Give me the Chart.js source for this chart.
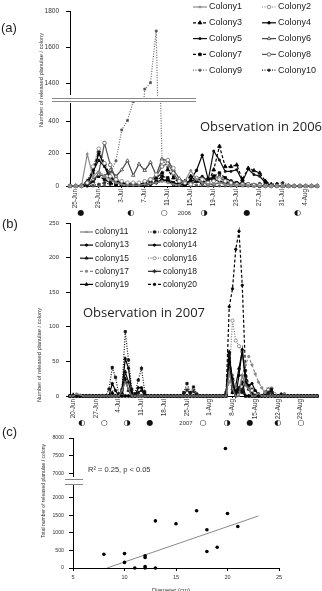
<!DOCTYPE html>
<html>
<head>
<meta charset="utf-8">
<script src="https://cdn.jsdelivr.net/npm/chart.js@4.4.1/dist/chart.umd.min.js"></script>
<style>
  html, body { margin: 0; padding: 0; background: #fff; }
  body { width: 322px; height: 591px; position: relative; overflow: hidden; font-family: 'Liberation Sans', Arial, sans-serif; color: #222; }
  canvas { position: absolute; left: 0; }
  .t { position: absolute; white-space: nowrap; line-height: 1; transform: translateY(-50%); }
  .yt { position: absolute; white-space: nowrap; line-height: 1; color: #333; transform: translate(-50%, -50%) rotate(-90deg); }
  .obs { font-family: 'Open Sans', sans-serif; font-size: 13px; color: #222; }
  .brk { position: absolute; background: #fff; border-top: 1px solid #888; border-bottom: 1px solid #888; }
</style>
</head>
<body>
<canvas id="aTop" width="322" height="99" style="top:0px"></canvas>
<canvas id="aBot" width="322" height="132" style="top:99px"></canvas>
<canvas id="bChart" width="322" height="225" style="top:215px"></canvas>
<canvas id="cTop" width="322" height="50" style="top:430px"></canvas>
<canvas id="cBot" width="322" height="111" style="top:480px"></canvas>

<div class="brk" style="left:52px; top:98px; width:144px; height:2px"></div>
<div class="brk" style="left:65px; top:479px; width:18px; height:4px"></div>

<div class="t" style="left:1px; top:27px; font-size:13px">(a)</div>
<div class="t" style="left:2px; top:223px; font-size:13px">(b)</div>
<div class="t" style="left:2px; top:431px; font-size:13px">(c)</div>
<div class="t obs" style="left:200px; top:126px">Observation in 2006</div>
<div class="t obs" style="left:83px; top:312px">Observation in 2007</div>
<div class="t" style="left:88px; top:470px; font-size:7.5px; color:#333">R² = 0.25, p &lt; 0.05</div>
<div class="t" style="left:152px; top:590px; font-size:6px; color:#333">Diameter (cm)</div>
<div class="yt" style="left:42px; top:80px; font-size:5.7px">Number of released planulae / colony</div>
<div class="yt" style="left:40px; top:355px; font-size:5.7px">Number of released planulae / colony</div>
<div class="yt" style="left:43px; top:491px; font-size:5px">Total number of released planulae / colony</div>

<script>
// ---- (a) 2006 ----
const datesA = ['24-Jun','25-Jun','26-Jun','27-Jun','28-Jun','29-Jun','30-Jun',
  '1-Jul','2-Jul','3-Jul','4-Jul','5-Jul','6-Jul','7-Jul','8-Jul','9-Jul','10-Jul',
  '11-Jul','12-Jul','13-Jul','14-Jul','15-Jul','16-Jul','17-Jul','18-Jul','19-Jul','20-Jul',
  '21-Jul','22-Jul','23-Jul','24-Jul','25-Jul','26-Jul','27-Jul','28-Jul','29-Jul','30-Jul','31-Jul',
  '1-Aug','2-Aug','3-Aug','4-Aug','5-Aug','6-Aug'];
const tickLabelsA = ['25-Jun','29-Jun','3-Jul','7-Jul','11-Jul','15-Jul','19-Jul','23-Jul','27-Jul','31-Jul','4-Aug'];
const namesA = ['Colony1','Colony2','Colony3','Colony4','Colony5','Colony6','Colony7','Colony8','Colony9','Colony10'];
const colony1 = [0,0,0,197,58,90,60,40,20,10, 5,5,5,10,15,20,30,20,10,5, 30,96,40,20,10,15,20,10,5,5, 5,5,0,0,0,0,0,0,0,0, 0,0,0,0];
const colony2 = [0,0,0,20,120,230,140,60,40,30, 20,20,20,30,40,70,150,160,110,30, 20,10,50,40,20,30,40,30,20,10, 10,10,5,5,0,0,0,0,0,0, 0,0,0,0];
const colony3 = [0,0,5,30,100,215,140,60,30,20, 10,10,10,20,30,50,80,100,50,20, 30,60,30,20,20,100,245,120,120,130, 40,110,95,80,30,10,5,0,0,0, 0,0,0,0];
const colony4 = [0,0,0,10,80,200,130,50,30,20, 15,10,10,10,15,20,40,30,10,5, 10,40,96,190,46,40,30,20,20,20, 10,10,5,5,0,0,0,0,0,0, 0,0,0,0];
const colony5 = [0,0,5,20,90,160,120,40,20,10, 10,5,5,5,10,20,30,40,20,10, 20,30,40,60,30,215,160,90,90,100, 30,105,70,60,20,5,0,0,0,0, 0,0,0,0];
const colony6 = [0,0,0,10,40,70,60,98,60,100, 156,66,136,96,146,66,166,156,100,46, 20,20,30,20,10,10,20,15,10,10, 5,5,0,0,0,0,0,0,0,0, 0,0,0,0];
const colony7 = [0,0,0,5,30,60,40,20,10,10, 5,5,5,10,20,30,60,50,20,10, 5,20,50,30,20,60,80,50,30,20, 20,10,5,0,0,0,0,0,0,0, 0,0,0,0];
const colony8 = [0,0,0,5,20,80,265,130,40,20, 10,10,10,20,40,60,120,140,80,20, 10,10,30,20,40,60,50,30,20,10, 10,5,5,0,0,0,0,0,0,0, 0,0,0,0];
const colony9 = [0,0,0,0,0,0,5,85,155,346, 404,520,950,1370,1405,1690,165,115,60,30, 20,10,5,5,0,0,0,0,0,0, 0,0,0,0,0,0,0,0,0,0, 0,0,0,0];
const colony10 = [0,0,0,0,5,10,20,10,5,5, 5,5,5,5,10,20,40,30,10,5, 10,20,30,20,20,40,60,40,30,20, 20,15,10,15,10,10,15,20,5,0, 0,0,0,0];
const valuesA = [colony1,colony2,colony3,colony4,colony5,colony6,colony7,colony8,colony9,colony10];
const yTicksTopA = [1400, 1600, 1800];
const yTicksLowA = [0, 200, 400];
const moonIdxA = [1.9, 10.6, 16.4, 23.3, 30.8, 39.6];
const moonSymA = ['●','◐','○','◑','●','◐'];

// ---- (b) 2007 ----
const datesB = ['19-Jun','20-Jun','21-Jun','22-Jun','23-Jun','24-Jun','25-Jun','26-Jun','27-Jun','28-Jun','29-Jun','30-Jun',
  '1-Jul','2-Jul','3-Jul','4-Jul','5-Jul','6-Jul','7-Jul','8-Jul','9-Jul','10-Jul',
  '11-Jul','12-Jul','13-Jul','14-Jul','15-Jul','16-Jul','17-Jul','18-Jul','19-Jul','20-Jul',
  '21-Jul','22-Jul','23-Jul','24-Jul','25-Jul','26-Jul','27-Jul','28-Jul','29-Jul','30-Jul','31-Jul',
  '1-Aug','2-Aug','3-Aug','4-Aug','5-Aug','6-Aug','7-Aug','8-Aug','9-Aug','10-Aug',
  '11-Aug','12-Aug','13-Aug','14-Aug','15-Aug','16-Aug','17-Aug','18-Aug','19-Aug','20-Aug',
  '21-Aug','22-Aug','23-Aug','24-Aug','25-Aug','26-Aug','27-Aug','28-Aug','29-Aug','30-Aug','31-Aug',
  '1-Sep','2-Sep','3-Sep'];
const tickLabelsB = ['20-Jun','27-Jun','4-Jul','11-Jul','18-Jul','25-Jul','1-Aug','8-Aug','15-Aug','22-Aug','29-Aug'];
const namesB = ['colony11','colony12','colony13','colony14','colony15','colony16','colony17','colony18','colony19','colony20'];
const colony11 = [0,0,3,2,0,0,0,0,0,0, 0,0,0,0,0,0,8,20,10,0, 0,0,0,0,0,0,0,0,0,0, 0,0,0,0,0,0,0,0,0,0, 0,0,0,0,0,0,0,0,0,35, 10,0,0,30,15,10,0,0,4,0, 0,0,0,0,0,0,0,0,0,0, 0,0,0,0,0,0,0];
const colony12 = [0,0,0,0,0,0,0,0,0,0, 0,0,10,41,27,3,8,93,52,10, 3,23,40,6,0,0,0,0,0,0, 0,0,0,0,0,5,18,5,13,3, 0,0,0,0,0,0,0,0,5,60, 20,5,10,5,0,0,0,0,0,0, 0,0,10,0,0,0,0,0,0,0, 0,0,0,0,0,0,0];
const colony13 = [0,0,0,0,0,0,0,0,0,0, 0,0,0,18,8,0,10,54,40,5, 0,12,12,3,0,0,0,0,0,0, 0,0,0,0,0,0,0,0,0,0, 0,0,0,0,0,0,0,0,0,62, 5,3,10,20,0,0,0,0,0,0, 0,0,0,0,0,0,0,0,0,0, 0,0,0,0,0,0,0];
const colony14 = [0,0,0,0,0,0,0,0,0,0, 0,0,0,0,0,0,0,0,0,0, 0,0,0,0,0,0,0,0,0,0, 0,0,0,0,0,0,0,0,0,0, 0,0,0,0,0,0,0,0,0,55, 25,0,30,67,20,15,18,8,3,0, 0,0,0,0,0,0,0,0,0,0, 0,0,0,0,0,0,0];
const colony15 = [0,0,0,0,0,0,0,0,0,0, 0,0,0,0,0,0,5,35,20,0, 0,5,8,0,0,0,0,0,0,0, 0,0,0,0,0,0,0,0,0,0, 0,0,0,0,0,0,0,0,3,64, 10,5,12,8,0,0,0,0,0,0, 0,5,8,0,0,0,0,0,0,0, 0,0,0,0,0,0,0];
const colony16 = [0,0,0,0,0,0,0,0,0,0, 0,0,0,0,0,0,0,0,0,0, 0,0,0,0,0,0,0,0,0,0, 0,0,0,0,0,0,0,0,0,0, 0,0,0,0,0,0,0,0,0,30, 109,80,72,64,20,15,8,5,0,0, 0,9,11,3,0,0,0,0,0,0, 0,0,0,0,0,0,0];
const colony17 = [0,0,0,0,0,0,0,0,0,0, 0,0,0,0,0,0,0,0,0,0, 0,0,0,0,0,0,0,0,0,0, 0,0,0,0,0,0,0,0,0,0, 0,0,0,0,0,0,0,0,2,20, 30,15,10,30,45,57,45,32,20,12, 5,3,0,0,0,0,3,0,0,0, 0,0,0,0,0,0,0];
const colony18 = [0,0,0,0,0,0,0,0,0,0, 0,0,0,0,0,0,0,0,0,0, 0,0,0,0,0,0,0,0,0,0, 0,0,0,0,0,0,9,3,7,0, 0,0,0,0,0,0,0,0,0,45, 15,8,5,10,18,10,0,0,0,0, 6,10,5,0,0,0,0,0,0,0, 0,0,0,0,0,0,0];
const colony19 = [0,2,2,0,0,0,0,0,0,0, 0,0,0,5,0,0,3,25,8,0, 0,0,0,0,0,0,0,0,0,0, 0,0,0,0,0,0,0,0,0,0, 0,0,0,0,0,0,0,0,0,50, 5,15,40,65,30,10,5,0,0,0, 0,0,0,0,0,0,0,0,0,0, 0,0,0,0,0,0,0];
const colony20 = [0,0,0,0,0,0,0,0,0,0, 0,0,0,0,0,0,0,0,0,0, 0,0,0,0,0,0,0,0,0,0, 0,0,0,0,0,0,0,0,0,0, 0,0,0,0,0,0,0,0,0,129, 155,212,238,160,37,15,10,6,3,0, 0,0,0,0,0,3,3,0,0,0, 0,0,0,0,0,0,0];
const valuesB = [colony11,colony12,colony13,colony14,colony15,colony16,colony17,colony18,colony19,colony20];
const yTicksB = [0, 50, 100, 150, 200, 250];
const moonIdxB = [3.7, 10.5, 17.5, 24.6, 40.9, 48.3, 55.4, 64, 71.1];
const moonSymB = ['◐','○','◑','●','○','◑','●','◐','○'];

// ---- (c) size vs total ----
const diameterC = [8, 10, 10, 11, 12, 12, 12, 12, 13, 13, 15, 17, 18, 18, 19, 20, 21, 19.8];
const totalC = [390, 410, 160, 0, 350, 300, 40, 0, 1340, 0, 1260, 1630, 1090, 470, 590, 1550, 1180, 7700];
const trendX = [8.3, 23];
const trendY = [0, 1480];
const xTicksC = [5, 10, 15, 20, 25];
const yTicksTopC = [7000, 7500, 8000];
const yTicksLowC = [0, 500, 1000, 1500, 2000];

// line looks, same order as the names
const stylesA = [
  { c: '#8a8a8a', dash: [], ps: 'circle', r: 1, bg: '#8a8a8a' },
  { c: '#7a7a7a', dash: [1, 1.5], ps: 'circle', r: 1.8, bg: '#fff' },
  { c: '#000', dash: [3, 2], ps: 'triangle', r: 2.2, bg: '#000' },
  { c: '#000', dash: [], ps: 'circle', r: 1.3, bg: '#000' },
  { c: '#111', dash: [], ps: 'rect', r: 1.3, bg: '#111' },
  { c: '#444', dash: [], ps: 'triangle', r: 2, bg: '#fff' },
  { c: '#000', dash: [3, 2], ps: 'rect', r: 1.8, bg: '#000' },
  { c: '#555', dash: [], ps: 'circle', r: 1.8, bg: '#fff' },
  { c: '#666', dash: [1, 1.5], ps: 'rect', r: 1.4, bg: '#444' },
  { c: '#222', dash: [1, 1.5], ps: 'circle', r: 1.2, bg: '#222' }
];
const stylesB = [
  { c: '#7a7a7a', dash: [], ps: 'crossRot', r: 1.6, bg: '#7a7a7a' },
  { c: '#111', dash: [1, 1.5], ps: 'rect', r: 1.6, bg: '#111' },
  { c: '#000', dash: [], ps: 'circle', r: 1.2, bg: '#000' },
  { c: '#000', dash: [], ps: 'circle', r: 1.2, bg: '#000' },
  { c: '#111', dash: [], ps: 'triangle', r: 1.8, bg: '#111' },
  { c: '#7a7a7a', dash: [1, 1.5], ps: 'circle', r: 1.6, bg: '#fff' },
  { c: '#888', dash: [3, 2], ps: 'circle', r: 1.2, bg: '#888' },
  { c: '#222', dash: [], ps: 'star', r: 2, bg: '#222' },
  { c: '#000', dash: [], ps: 'triangle', r: 1.8, bg: '#000' },
  { c: '#000', dash: [3, 2], ps: 'circle', r: 1.2, bg: '#000' }
];

Chart.defaults.font.family = "'Liberation Sans', Arial, sans-serif";
Chart.defaults.color = '#333';

function series(names, values, styles) {
  return names.map((name, k) => ({
    label: name,
    data: values[k],
    borderColor: styles[k].c,
    borderWidth: 1.2,
    borderDash: styles[k].dash,
    pointStyle: styles[k].ps,
    pointRadius: styles[k].r,
    pointBorderWidth: 0.8,
    pointBackgroundColor: styles[k].bg,
    pointBorderColor: styles[k].c,
    tension: 0,
    fill: false,
    clip: 3
  }));
}

// tick padding would otherwise push the plot area in; layout padding handles the edges
function noEdgePad(s) {
  s.paddingTop = 0; s.paddingBottom = 0; s.paddingLeft = 0; s.paddingRight = 0;
}

// legend + moon row, drawn on the canvas
const decor = {
  id: 'decor',
  afterDraw(chart, args, o) {
    const ctx = chart.ctx;
    if (o.legend) {
      const L = o.legend;
      chart.data.datasets.forEach((ds, k) => {
        const x0 = L.cols[k % 2];
        const y = L.y0 + Math.floor(k / 2) * L.dy;
        ctx.save();
        ctx.strokeStyle = ds.borderColor;
        ctx.lineWidth = 1.2;
        ctx.setLineDash(ds.borderDash || []);
        ctx.beginPath();
        ctx.moveTo(x0, y);
        ctx.lineTo(x0 + L.len, y);
        ctx.stroke();
        ctx.setLineDash([]);
        ctx.fillStyle = ds.pointBackgroundColor;
        ctx.strokeStyle = ds.pointBorderColor;
        ctx.lineWidth = 0.8;
        Chart.helpers.drawPoint(ctx, { pointStyle: ds.pointStyle, radius: ds.pointRadius, rotation: 0, borderWidth: 0.8 }, x0 + L.len / 2, y);
        ctx.fillStyle = '#222';
        ctx.font = L.font;
        ctx.textAlign = 'left';
        ctx.textBaseline = 'middle';
        ctx.fillText(ds.label, x0 + L.len + 2, y);
        ctx.restore();
      });
    }
    if (o.moons) {
      const M = o.moons;
      const xs = chart.scales.x;
      const y = chart.chartArea.bottom + 27;
      ctx.save();
      ctx.fillStyle = '#111';
      ctx.textAlign = 'center';
      ctx.textBaseline = 'middle';
      ctx.font = "8px 'DejaVu Sans'";
      M.idx.forEach((v, k) => ctx.fillText(M.sym[k], xs.getPixelForValue(v), y));
      ctx.font = "6px 'Liberation Sans'";
      ctx.fillStyle = '#333';
      ctx.fillText(M.year, xs.getPixelForValue(M.yearIdx), y);
      ctx.restore();
    }
  }
};

function timeline(id, o) {
  return new Chart(document.getElementById(id), {
    type: 'line',
    data: { labels: o.labels, datasets: o.datasets },
    options: {
      responsive: false,
      animation: false,
      events: [],
      layout: { padding: o.pad },
      plugins: { legend: { display: false }, tooltip: { enabled: false }, decor: o.decor || false },
      scales: {
        x: {
          display: o.showX,
          grid: { drawOnChartArea: false, tickLength: 2, color: '#000' },
          border: { color: '#000' },
          ticks: {
            autoSkip: false, minRotation: 90, maxRotation: 90, padding: 1,
            font: { size: 6.3 }, color: '#333',
            callback(v) { return this.getLabelForValue(v); }
          },
          afterBuildTicks: s => { s.ticks = o.tickLabels.map(t => ({ value: o.labels.indexOf(t) })); },
          afterFit: s => { s.height = o.xHeight; noEdgePad(s); }
        },
        y: {
          min: o.min, max: o.max,
          grid: { drawOnChartArea: false, tickLength: 4, color: '#000' },
          border: { color: '#000' },
          ticks: { padding: 7, font: { size: o.tickSize }, color: '#333', callback: v => String(v) },
          afterBuildTicks: s => { s.ticks = o.yTicks.map(v => ({ value: v })); },
          afterFit: s => { s.width = 70; noEdgePad(s); }
        }
      }
    },
    plugins: [decor]
  });
}

timeline('aTop', {
  labels: datesA, tickLabels: tickLabelsA, datasets: series(namesA, valuesA, stylesA),
  min: 1342, max: 1800, yTicks: yTicksTopA, tickSize: 6.5,
  showX: false, xHeight: 0, pad: { top: 11, right: 1, bottom: 1, left: 0 },
  decor: { legend: { cols: [193, 262], y0: 7, dy: 15.8, len: 14, font: "9px 'Liberation Sans'" } }
});
timeline('aBot', {
  labels: datesA, tickLabels: tickLabelsA, datasets: series(namesA, valuesA, stylesA),
  min: 0, max: 507, yTicks: yTicksLowA, tickSize: 6.5,
  showX: true, xHeight: 45, pad: { top: 2, right: 1, bottom: 0, left: 0 },
  decor: { moons: { idx: moonIdxA, sym: moonSymA, year: '2006', yearIdx: 19.9 } }
});
timeline('bChart', {
  labels: datesB, tickLabels: tickLabelsB, datasets: series(namesB, valuesB, stylesB),
  min: 0, max: 250, yTicks: yTicksB, tickSize: 6,
  showX: true, xHeight: 44, pad: { top: 8, right: 5, bottom: 0, left: 0 },
  decor: {
    legend: { cols: [80, 148], y0: 17, dy: 13.1, len: 13, font: "8.5px 'Liberation Sans'" },
    moons: { idx: moonIdxB, sym: moonSymB, year: '2007', yearIdx: 35.7 }
  }
});

function scatterPart(id, o) {
  const pts = diameterC.map((d, k) => ({ x: d, y: totalC[k] }));
  const trend = trendX.map((x, k) => ({ x: x, y: trendY[k] }));
  return new Chart(document.getElementById(id), {
    type: 'scatter',
    data: {
      datasets: [
        { data: pts, pointRadius: 1.8, pointBackgroundColor: '#000', pointBorderColor: '#000', pointBorderWidth: 0, clip: 4 },
        { data: trend, showLine: true, pointRadius: 0, borderColor: '#8a8a8a', borderWidth: 1, clip: 0 }
      ]
    },
    options: {
      responsive: false,
      animation: false,
      events: [],
      layout: { padding: o.pad },
      plugins: { legend: { display: false }, tooltip: { enabled: false } },
      scales: {
        x: {
          type: 'linear', min: 5, max: 25, display: o.showX,
          grid: { drawOnChartArea: false, tickLength: 3, color: '#000' },
          border: { color: '#000' },
          ticks: { padding: 3, font: { size: 5.5 }, color: '#333', callback: v => String(v) },
          afterBuildTicks: s => { s.ticks = xTicksC.map(v => ({ value: v })); },
          afterFit: s => { s.height = o.xHeight; noEdgePad(s); }
        },
        y: {
          min: o.min, max: o.max,
          grid: { drawOnChartArea: false, tickLength: 4, color: '#000' },
          border: { color: '#000' },
          ticks: { padding: 5, font: { size: 5.2 }, color: '#333', callback: v => String(v) },
          afterBuildTicks: s => { s.ticks = o.yTicks.map(v => ({ value: v })); },
          afterFit: s => { s.width = 73; noEdgePad(s); }
        }
      }
    }
  });
}

scatterPart('cTop', { min: 6920, max: 8000, yTicks: yTicksTopC, showX: false, xHeight: 0, pad: { top: 8, right: 43, bottom: 1, left: 0 } });
scatterPart('cBot', { min: 0, max: 2390, yTicks: yTicksLowC, showX: true, xHeight: 23, pad: { top: 4, right: 43, bottom: 0, left: 0 } });
</script>
</body>
</html>
